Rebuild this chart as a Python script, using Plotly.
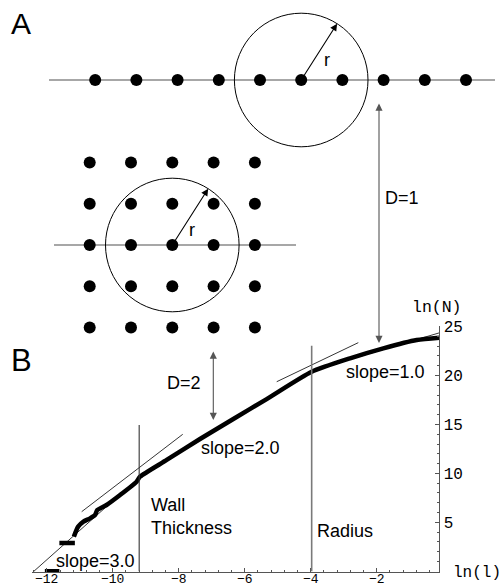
import math
import plotly.graph_objects as go

# ---------------- Panel B data: box-counting curve ----------------
ln_l = [-11.18, -11.05, -10.89, -10.69, -10.54, -10.47, -10.19, -9.78, -9.28,
        -9.175, -8.366, -7.356, -6.346, -5.334, -3.969, -2.808, -1.798, -0.785, -0.1]
ln_N = [3.54, 4.56, 5.07, 5.41, 5.75, 6.26, 6.77, 7.79, 9.15,
        9.66, 11.37, 13.51, 15.55, 17.59, 20.38, 21.75, 22.77, 23.62, 23.86]

# flat steps at the smallest box sizes
step_l = [[-12.06, -11.62], [-11.62, -11.15]]
step_N = [[0.0, 0.0], [2.89, 2.89]]

# thin guide segments (ln l, ln N end points)
guide_l = [[-12.45, -9.175], [-10.943, -7.88], [-5.03, -2.556], [-2.8, -0.08]]
guide_N = [[-0.165, 9.66], [6.09, 13.99], [19.36, 23.35], [21.65, 24.37]]

wall_ln_l, wall_top = -9.2, 14.94
radius_ln_l, radius_top = -3.97, 23.04

x_ticks = [-12, -10, -8, -6, -4, -2]
y_ticks = [5, 10, 15, 20, 25]

# ---------------- Panel A: lattices (index units) ----------------
chain_index = [-5, -4, -3, -2, -1, 0, 1, 2, 3, 4]
grid_index = [-2, -1, 0, 1, 2]

SANS = "Liberation Sans, Arial, sans-serif"
MONO = "Liberation Mono, Courier New, monospace"

W, H = 502, 588
fig = go.Figure()

# ---- curve ----
sx, sy = [], []
for a, b in zip(step_l, step_N):
    sx += a + [None]
    sy += b + [None]
fig.add_trace(go.Scatter(x=sx, y=sy, mode="lines",
                         line=dict(color="black", width=4.5), hoverinfo="skip"))
fig.add_trace(go.Scatter(x=ln_l, y=ln_N, mode="lines",
                         line=dict(color="black", width=4.5, shape="spline", smoothing=0.6),
                         hoverinfo="skip"))
gx, gy = [], []
for a, b in zip(guide_l, guide_N):
    gx += a + [None]
    gy += b + [None]
fig.add_trace(go.Scatter(x=gx, y=gy, mode="lines",
                         line=dict(color="black", width=0.8), hoverinfo="skip"))
fig.add_trace(go.Scatter(x=[wall_ln_l, wall_ln_l], y=[0, wall_top], mode="lines",
                         line=dict(color="#333333", width=1.1), hoverinfo="skip"))
fig.add_trace(go.Scatter(x=[radius_ln_l, radius_ln_l], y=[0, radius_top], mode="lines",
                         line=dict(color="#7a7a7a", width=1.6), hoverinfo="skip"))

# ---- schematic lattices on a pixel-like overlay axis ----
SP1, C1 = 41.2, (301.2, 80.0)     # chain spacing / centre
SP2, C2 = 41.3, (172.3, 245.0)    # grid spacing / centre
R = 66.8
ANG = math.radians(57.5)

fig.add_trace(go.Scatter(x=[49, 495], y=[C1[1], C1[1]], mode="lines", xaxis="x2", yaxis="y2",
                         line=dict(color="#8a8a8a", width=1.6), hoverinfo="skip"))
fig.add_trace(go.Scatter(x=[54, 296], y=[C2[1], C2[1]], mode="lines", xaxis="x2", yaxis="y2",
                         line=dict(color="#8a8a8a", width=1.6), hoverinfo="skip"))
fig.add_trace(go.Scatter(x=[C1[0] + i * SP1 for i in chain_index],
                         y=[C1[1]] * len(chain_index), mode="markers", xaxis="x2", yaxis="y2",
                         marker=dict(color="black", size=12), hoverinfo="skip"))
gxs, gys = [], []
for j in grid_index:
    for i in grid_index:
        gxs.append(C2[0] + i * SP2)
        gys.append(C2[1] + j * SP2)
fig.add_trace(go.Scatter(x=gxs, y=gys, mode="markers", xaxis="x2", yaxis="y2",
                         marker=dict(color="black", size=12), hoverinfo="skip"))

shapes = []
for c in (C1, C2):
    shapes.append(dict(type="circle", xref="x2", yref="y2",
                       x0=c[0] - R, x1=c[0] + R, y0=c[1] - R, y1=c[1] + R,
                       line=dict(color="black", width=1)))

ann = []
# radius arrows
for c in (C1, C2):
    tip = (c[0] + R * math.cos(ANG), c[1] - R * math.sin(ANG))
    ann.append(dict(x=tip[0], y=tip[1], ax=c[0], ay=c[1], xref="x2", yref="y2",
                    axref="x2", ayref="y2", text="", showarrow=True,
                    arrowhead=2, arrowsize=1.3, arrowwidth=1.1, arrowcolor="black"))
# D arrows
for x, y0, y1 in ((379, 102, 343), (213.3, 350, 420)):
    ann.append(dict(x=x, y=y1, ax=x, ay=y0, xref="x2", yref="y2", axref="x2", ayref="y2",
                    text="", showarrow=True, arrowhead=2, startarrowhead=2,
                    arrowside="end+start", arrowsize=1.3, startarrowsize=1.3,
                    arrowwidth=1.1, arrowcolor="#555555"))


def label(txt, x, y, size=18, xanchor="center", font=SANS, ref="x2"):
    ann.append(dict(x=x, y=y, xref=ref, yref="y2" if ref == "x2" else "y",
                    text=txt, showarrow=False, xanchor=xanchor, yanchor="middle",
                    font=dict(family=font, size=size, color="black")))


label("A", 21, 23, size=30)
label("B", 21, 360, size=31)
label("r", 327, 60)
label("r", 192, 230)
label("D=1", 383, 198, xanchor="left")
label("D=2", 203, 383, xanchor="right")
label("slope=1.0", 385, 371.7)
label("slope=2.0", 240, 448.3)
label("slope=3.0", 95.5, 561.0)
label("Wall", 149, 505, xanchor="left")
label("Thickness", 149, 528.3, xanchor="left")
label("Radius", 315, 530.7, xanchor="left")
label("ln(N)", 437, 307, size=16.5, font=MONO)
label("ln(l)", 476.5, 573, size=16, font=MONO)

# x tick labels sit tight against the bottom edge of the page
for v in x_ticks:
    ann.append(dict(x=v, xref="x", y=0, yref="paper", yanchor="bottom", xanchor="center",
                    text=f"\u2212{abs(v)}", showarrow=False, borderpad=0,
                    font=dict(family=MONO, size=13, color="black")))

x0p, x1p = 32.0, 439.3
y0p, y1p = 572.3, 326.0

fig.update_layout(
    width=W, height=H, margin=dict(l=0, r=0, t=0, b=0, autoexpand=False),
    paper_bgcolor="white", plot_bgcolor="rgba(0,0,0,0)", showlegend=False,
    shapes=shapes, annotations=ann,
    xaxis=dict(domain=[x0p / W, x1p / W], range=[-12.45, -0.1], anchor="y",
               automargin=False, showticklabels=False,
               showline=True, linecolor="#555555", linewidth=1.3,
               ticks="inside", ticklen=4, tickwidth=1, tickcolor="#555555",
               tickvals=x_ticks,
               minor=dict(dtick=0.4, tick0=0, ticks="inside", ticklen=2.5, tickcolor="#555555"),
               showgrid=False, zeroline=False, fixedrange=True),
    yaxis=dict(domain=[(H - y0p) / H, (H - y1p) / H], range=[-0.1, 25.05], anchor="x",
               automargin=False,
               side="right", showline=True, linecolor="#555555", linewidth=1.3,
               ticks="inside", ticklen=4, tickwidth=1, tickcolor="#555555",
               tickvals=y_ticks,
               minor=dict(dtick=1, tick0=0, ticks="inside", ticklen=2.5, tickcolor="#555555"),
               tickfont=dict(family=MONO, size=16, color="black"),
               showgrid=False, zeroline=False, fixedrange=True),
    xaxis2=dict(domain=[0, 1], range=[0, W], anchor="y2", visible=False, fixedrange=True),
    yaxis2=dict(domain=[0, 1], range=[H, 0], anchor="x2", visible=False, fixedrange=True),
)

fig.write_html("out.html")
